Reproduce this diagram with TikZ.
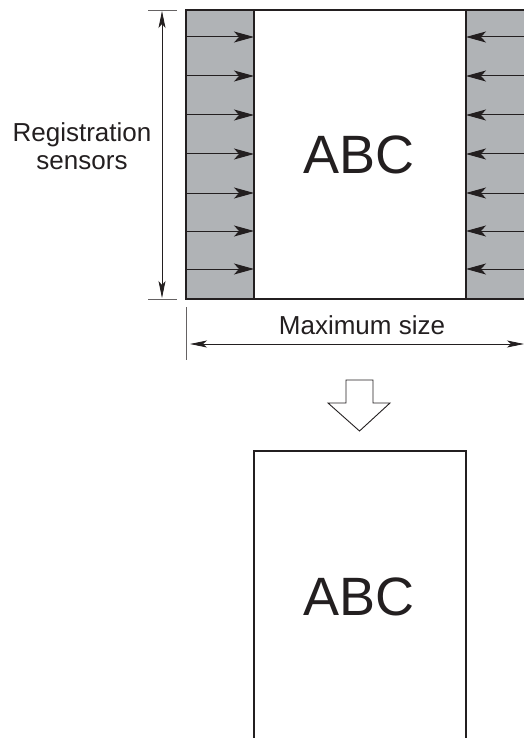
\documentclass[tikz,border=0pt]{standalone}
\usepackage{fontspec}
\setmainfont{Liberation Sans}
\usetikzlibrary{arrows.meta}
\definecolor{strip}{RGB}{176,179,182}
\definecolor{ink}{RGB}{35,31,32}
\begin{document}
\begin{tikzpicture}[x=1pt,y=-1pt,
  sensor/.style={draw=ink,line width=1pt,-{Stealth[length=20pt,width=11pt,inset=5pt]}},
  dimline/.style={draw=ink,line width=0.9pt,{Stealth[length=17pt,width=7pt,inset=4pt]}-{Stealth[length=17pt,width=7pt,inset=4pt]}},
  tick/.style={draw=ink!70,line width=0.9pt},
  label/.style={font=\fontsize{26}{31}\selectfont,text=ink,align=center,inner sep=0pt},
  big/.style={font=\fontsize{54}{60}\selectfont,text=ink,inner sep=0pt},
  paper/.style={draw=ink,line width=2.2pt,fill=white}]
\useasboundingbox (0,0) rectangle (524,738);
% top sheet with strips
\fill[strip] (186,10) rectangle (254,299);
\fill[strip] (466,10) rectangle (526,299);
\draw[ink,line width=2.6pt] (527,10) -- (186,10) -- (186,299) -- (527,299);
\draw[ink,line width=2pt] (254,10) -- (254,299);
\draw[ink,line width=2pt] (466,10) -- (466,299);
\node[big] (abc1) at (359,155) {ABC};
% sensor arrows
\foreach \i/\y in {1/37,2/76,3/115,4/154,5/193,6/231,7/269}{
  \coordinate (la\i) at (186,\y);
  \coordinate (lb\i) at (254,\y);
  \coordinate (ra\i) at (526,\y);
  \coordinate (rb\i) at (466,\y);
  \draw[sensor] (la\i) -- (lb\i);
  \draw[sensor] (ra\i) -- (rb\i);
}
% vertical dimension
\coordinate (vt1) at (148,10); \coordinate (vt2) at (177,10);
\coordinate (vb1) at (148,299); \coordinate (vb2) at (177,299);
\draw[tick] (vt1) -- (vt2);
\draw[tick] (vb1) -- (vb2);
\coordinate (vtop) at (162,11); \coordinate (vbot) at (162,298);
\draw[dimline] (vtop) -- (vbot);
\node[label] (reg) at (82,146) {Registration\\[-3pt]sensors};
% horizontal dimension
\coordinate (ht) at (186,307); \coordinate (hb) at (186,360);
\draw[tick] (ht) -- (hb);
\coordinate (hl) at (190,344); \coordinate (hr) at (524,344);
\draw[dimline] (hl) -- (hr);
\node[label] (max) at (362,325) {Maximum size};
% hollow arrow
\draw[ink,line width=0.9pt,fill=white] (346,380) -- (373,380) -- (373,403) -- (390,403) -- (359.5,431) -- (328,403) -- (346,403) -- cycle;
% bottom sheet
\draw[paper] (254,742) -- (254,451) -- (466,451) -- (466,742);
\node[big] (abc2) at (359,597) {ABC};
\end{tikzpicture}
\end{document}
